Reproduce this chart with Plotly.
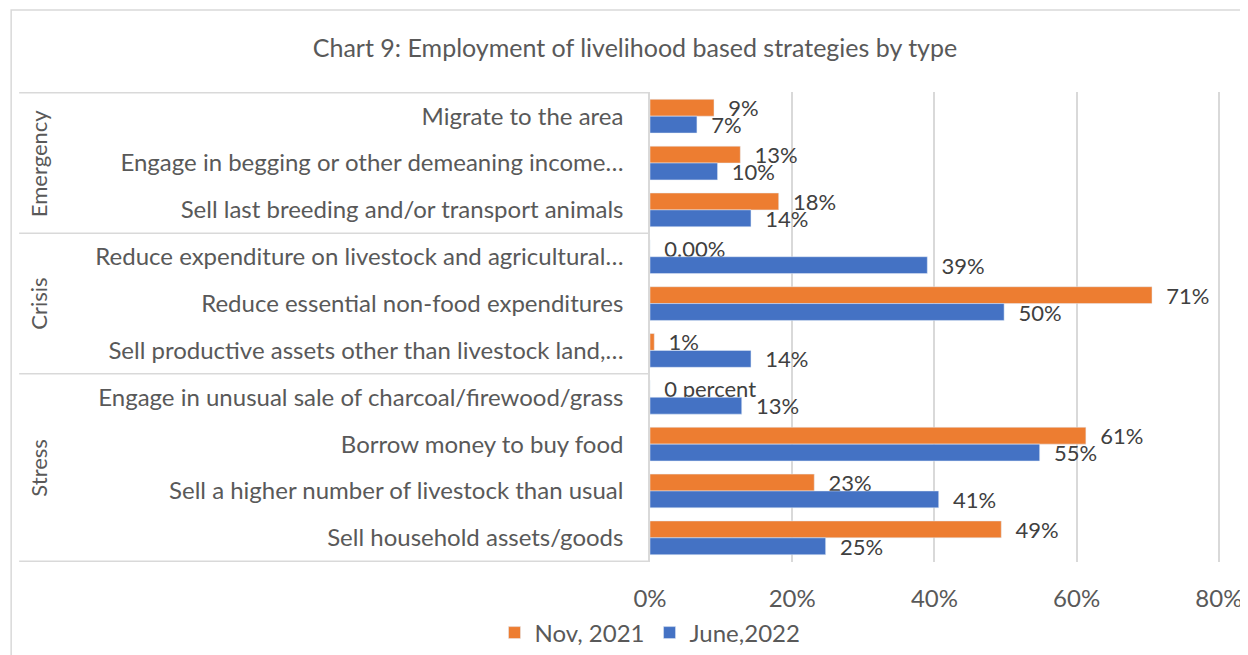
import plotly.graph_objects as go

categories = [
    "Migrate to the area",
    "Engage in begging or other demeaning income…",
    "Sell last breeding and/or transport animals",
    "Reduce expenditure on livestock and agricultural…",
    "Reduce essential non-food expenditures",
    "Sell productive assets other than livestock land,…",
    "Engage in unusual sale of charcoal/firewood/grass",
    "Borrow money to buy food",
    "Sell a higher number of livestock than usual",
    "Sell household assets/goods",
]
groups = ["Emergency", "Crisis", "Stress"]
group_sizes = [3, 3, 4]

nov_2021 = [0.09, 0.127, 0.181, 0.0, 0.706, 0.006, 0.0, 0.613, 0.231, 0.494]
june_2022 = [0.066, 0.095, 0.142, 0.39, 0.498, 0.142, 0.129, 0.548, 0.406, 0.247]
nov_labels = ["9%", "13%", "18%", "0.00%", "71%", "1%", "0 percent", "61%", "23%", "49%"]
june_labels = ["7%", "10%", "14%", "39%", "50%", "14%", "13%", "55%", "41%", "25%"]
x_ticks = [0, 0.2, 0.4, 0.6, 0.8]
x_tick_labels = ["0%", "20%", "40%", "60%", "80%"]

FONT = "Lato"
ORANGE = "#ED7D31"
BLUE = "#4472C4"
GRID = "#D9D9D9"
TXT = "#595959"

# page has an 8px body margin: figure coords = window coords - 8
OFF = 8
X_MAX = 0.803
W, H = 1248, 655
L, T, B = 650 - OFF, 92 - OFF, 562 - OFF
PLOT_W = (1219 - 650) * X_MAX / 0.8
R = L + PLOT_W

def px_x(px):
    return (px - OFF - L) / PLOT_W

def px_y(py):
    return (B - (py - OFF)) / (B - T)

pad = "\u00a0\u00a0"

fig = go.Figure()
fig.add_trace(go.Bar(
    name="Nov, 2021", y=categories, x=nov_2021, orientation="h",
    marker_color=ORANGE, text=[pad + t for t in nov_labels],
    textposition="outside", constraintext="none", cliponaxis=False,
    textfont=dict(family=FONT, size=22, color="#404040"),
))
fig.add_trace(go.Bar(
    name="June,2022", y=categories, x=june_2022, orientation="h",
    marker_color=BLUE, text=[pad + t for t in june_labels],
    textposition="outside", constraintext="none", cliponaxis=False,
    textfont=dict(family=FONT, size=22, color="#404040"),
))

shapes = []
# outer chart border
shapes.append(dict(type="rect", xref="paper", yref="paper",
                   x0=px_x(11), x1=px_x(1300), y0=px_y(720), y1=px_y(10),
                   line=dict(color=GRID, width=1.5), layer="below"))
# hierarchy separators
bounds = [-0.5]
acc = -0.5
for s in group_sizes:
    acc += s
    bounds.append(acc)
for b in bounds:
    shapes.append(dict(type="line", xref="paper", yref="y",
                       x0=px_x(19), x1=0, y0=b, y1=b,
                       line=dict(color=GRID, width=1.5)))

annotations = []
start = -0.5
for g, s in zip(groups, group_sizes):
    annotations.append(dict(
        text=g, xref="paper", yref="y", x=px_x(38), y=start + s / 2,
        textangle=-90, showarrow=False, xanchor="center", yanchor="middle",
        font=dict(family=FONT, size=22, color=TXT)))
    start += s

fig.update_layout(
    width=W, height=H, autosize=False,
    margin=dict(l=L, r=W - R, t=T, b=H - B, autoexpand=False),
    paper_bgcolor="white", plot_bgcolor="white",
    barmode="group", bargap=0.28, bargroupgap=0,
    title=dict(text="Chart 9: Employment of livelihood based strategies by type",
               xref="container", yref="container", x=(635 - OFF) / W,
               y=1 - (48 - OFF) / H,
               xanchor="center", yanchor="middle",
               font=dict(family=FONT, size=25, color=TXT)),
    xaxis=dict(range=[0, X_MAX], tickvals=x_ticks, ticktext=x_tick_labels,
               showgrid=True, gridcolor=GRID, gridwidth=1.5,
               zeroline=False, showline=False, ticks="", automargin=False,
               ticklabelstandoff=20, ticklabeloverflow="allow",
               tickfont=dict(family=FONT, size=24, color=TXT)),
    yaxis=dict(autorange="reversed", showgrid=False, zeroline=False,
               showline=True, linecolor=GRID, linewidth=1.5, ticks="",
               automargin=False, ticklabelstandoff=20,
               tickfont=dict(family=FONT, size=24, color=TXT)),
    legend=dict(orientation="h", x=px_x(650), y=px_y(633),
                xanchor="center", yanchor="middle",
                font=dict(family=FONT, size=24, color=TXT),
                traceorder="normal"),
    shapes=shapes, annotations=annotations,
)

fig.write_html("out.html")
